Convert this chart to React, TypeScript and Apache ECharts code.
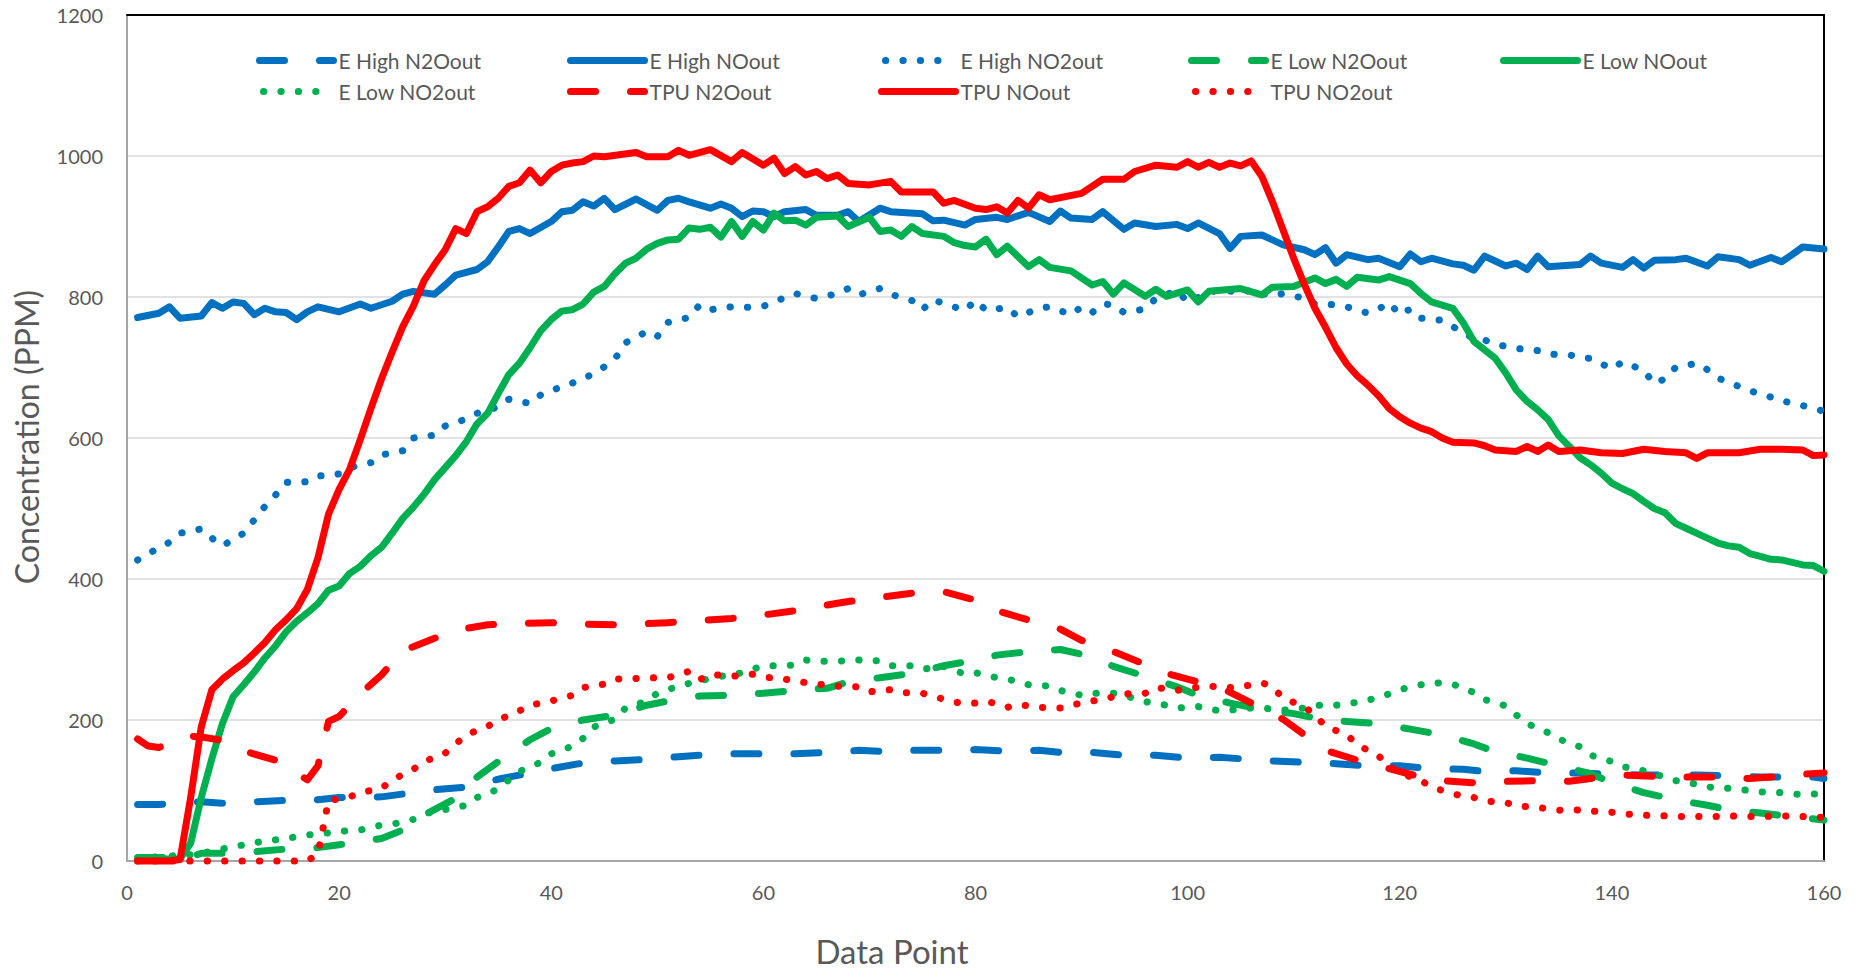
import { useEffect, useRef } from "react";
import * as echarts from "echarts";

// Concentration readings per data point, one [point, ppm] list per series.
const eHighN2O: [number, number][] = [
  [1, 80], [3, 80], [7, 84], [9, 82], [12, 84], [15, 86], [18, 87], [20, 90], [24, 91], [26, 95],
  [29, 101], [32, 105], [35, 116], [38, 125], [40, 131], [43, 139], [46, 142], [49, 144], [52, 148],
  [54, 150], [57, 152], [60, 152], [63, 152], [66, 154], [69, 157], [72, 155], [74, 157], [77, 157],
  [80, 158], [83, 156], [86, 157], [88, 154], [91, 154], [94, 150], [97, 150], [100, 146], [103, 147],
  [106, 144], [108, 142], [111, 140], [114, 138], [117, 135], [120, 135], [123, 131], [126, 130],
  [128, 127], [131, 128], [134, 125], [137, 125], [140, 123], [143, 122], [145, 122], [148, 122],
  [151, 121], [154, 119], [157, 119], [159, 119], [160, 117],
];

const eHighNO: [number, number][] = [
  [1, 771], [3, 777], [4, 786], [5, 770], [7, 773], [8, 792], [9, 784], [10, 793], [11, 791], [12, 775],
  [13, 784], [14, 779], [15, 778], [16, 768], [17, 779], [18, 786], [20, 779], [22, 790], [23, 784],
  [25, 794], [26, 804], [27, 808], [29, 804], [30, 817], [31, 831], [33, 839], [34, 850], [35, 871],
  [36, 893], [37, 897], [38, 890], [40, 907], [41, 921], [42, 923], [43, 935], [44, 929], [45, 940],
  [46, 924], [48, 939], [50, 923], [51, 937], [52, 940], [53, 935], [55, 926], [56, 932], [57, 926],
  [58, 914], [59, 922], [60, 921], [61, 914], [62, 921], [64, 924], [65, 916], [67, 916], [68, 921],
  [69, 907], [71, 926], [72, 921], [75, 918], [76, 908], [77, 909], [79, 902], [80, 910], [82, 913],
  [83, 910], [84, 915], [85, 920], [87, 907], [88, 922], [89, 912], [91, 910], [92, 921], [94, 896],
  [95, 905], [97, 900], [99, 903], [100, 897], [101, 905], [103, 890], [104, 869], [105, 886],
  [107, 888], [109, 874], [111, 867], [112, 860], [113, 870], [114, 848], [115, 860], [117, 853],
  [118, 855], [120, 843], [121, 861], [122, 850], [123, 855], [125, 847], [126, 845], [127, 838],
  [128, 858], [130, 844], [131, 848], [132, 839], [133, 858], [134, 843], [137, 846], [138, 858],
  [139, 848], [141, 842], [142, 853], [143, 841], [144, 852], [146, 853], [147, 855], [149, 844],
  [150, 857], [152, 853], [153, 845], [155, 856], [156, 850], [157, 860], [158, 871], [160, 868],
];

const eHighNO2: [number, number][] = [
  [1, 427], [2, 436], [4, 452], [5, 465], [7, 471], [8, 458], [9, 447], [11, 465], [12, 484], [13, 503],
  [14, 519], [15, 537], [17, 538], [18, 546], [20, 549], [21, 558], [23, 565], [24, 576], [26, 582],
  [27, 600], [29, 604], [30, 617], [32, 627], [33, 635], [35, 644], [36, 655], [38, 649], [39, 661],
  [41, 673], [42, 678], [44, 691], [45, 701], [46, 712], [47, 735], [49, 751], [50, 744], [51, 764],
  [53, 771], [54, 789], [55, 782], [57, 786], [58, 785], [60, 787], [61, 793], [63, 805], [64, 801],
  [65, 798], [67, 805], [68, 812], [69, 803], [71, 812], [72, 804], [74, 795], [75, 782], [76, 796],
  [77, 791], [79, 781], [80, 795], [81, 781], [83, 785], [84, 772], [86, 784], [87, 786], [89, 775],
  [90, 786], [91, 778], [92, 790], [93, 789], [94, 778], [96, 783], [97, 798], [99, 809], [100, 793],
  [102, 806], [103, 811], [105, 806], [106, 810], [108, 801], [109, 805], [111, 798], [112, 790],
  [114, 789], [115, 786], [117, 777], [118, 783], [119, 792], [120, 775], [121, 783], [122, 770],
  [124, 767], [125, 758], [127, 741], [128, 739], [129, 733], [131, 727], [133, 724], [134, 719],
  [136, 718], [137, 714], [138, 713], [140, 698], [141, 708], [143, 696], [144, 677], [145, 684],
  [146, 700], [148, 706], [149, 697], [150, 685], [152, 673], [153, 667], [155, 658], [156, 653],
  [158, 646], [160, 638],
];

const eLowN2O: [number, number][] = [
  [1, 5], [3, 5], [6, 6], [7, 11], [9, 11], [12, 13], [15, 17], [18, 19], [20, 23], [24, 32], [26, 44],
  [28, 65], [31, 89], [33, 119], [35, 141], [38, 172], [40, 188], [43, 200], [46, 207], [49, 221],
  [51, 227], [54, 234], [57, 235], [60, 238], [63, 242], [66, 245], [68, 254], [71, 260], [74, 266],
  [77, 277], [80, 285], [82, 292], [85, 297], [88, 300], [91, 290], [93, 276], [96, 262], [99, 247],
  [101, 235], [104, 224], [107, 215], [110, 209], [113, 200], [115, 198], [118, 195], [121, 187],
  [124, 179], [127, 166], [129, 155], [132, 146], [135, 135], [138, 124], [140, 111], [143, 97],
  [146, 87], [149, 79], [151, 73], [154, 68], [157, 63], [160, 58],
];

const eLowNO: [number, number][] = [
  [1, 3], [2, 3], [3, 3], [4, 3], [5, 3], [6, 25], [7, 90], [8, 145], [9, 195], [10, 233], [11, 250],
  [12, 268], [13, 288], [14, 305], [15, 325], [16, 340], [17, 352], [18, 365], [19, 384], [20, 390],
  [21, 408], [22, 418], [23, 433], [24, 445], [25, 465], [26, 486], [27, 502], [28, 520], [29, 541],
  [30, 558], [31, 575], [32, 595], [33, 620], [34, 635], [35, 663], [36, 690], [37, 706], [38, 728],
  [39, 752], [40, 768], [41, 780], [42, 782], [43, 790], [44, 807], [45, 815], [46, 833], [47, 848],
  [48, 855], [49, 868], [50, 876], [51, 881], [52, 882], [53, 898], [54, 896], [55, 899], [56, 885],
  [57, 907], [58, 886], [59, 907], [60, 895], [61, 919], [62, 908], [63, 909], [64, 902], [65, 913],
  [67, 915], [68, 900], [70, 913], [71, 893], [72, 895], [73, 886], [74, 900], [75, 890], [77, 886],
  [78, 877], [79, 873], [80, 871], [81, 882], [82, 860], [83, 872], [85, 843], [86, 853], [87, 842],
  [89, 837], [91, 817], [92, 822], [93, 804], [94, 820], [96, 801], [97, 811], [98, 801], [100, 810],
  [101, 793], [102, 808], [105, 812], [107, 803], [108, 814], [110, 815], [112, 827], [113, 819],
  [114, 825], [115, 815], [116, 828], [118, 824], [119, 829], [121, 819], [122, 805], [123, 793],
  [125, 784], [126, 763], [127, 737], [129, 713], [130, 692], [131, 668], [132, 652], [133, 640],
  [134, 626], [135, 603], [136, 588], [137, 572], [138, 562], [139, 550], [140, 536], [141, 528],
  [142, 521], [143, 510], [144, 500], [145, 494], [146, 479], [147, 472], [149, 458], [150, 451],
  [151, 447], [152, 445], [153, 436], [154, 432], [155, 428], [156, 427], [158, 420], [159, 419],
  [160, 411],
];

const eLowNO2: [number, number][] = [
  [1, 4], [4, 7], [6, 9], [7, 11], [9, 17], [11, 23], [12, 26], [14, 30], [15, 32], [17, 37], [19, 40],
  [20, 42], [22, 44], [24, 51], [25, 52], [27, 59], [28, 67], [30, 73], [32, 79], [33, 90], [35, 102],
  [36, 115], [37, 127], [39, 140], [40, 152], [42, 163], [43, 174], [44, 190], [46, 201], [47, 217],
  [49, 227], [50, 238], [52, 248], [53, 252], [55, 259], [56, 262], [58, 267], [60, 277], [61, 277],
  [63, 278], [64, 285], [66, 283], [68, 284], [69, 285], [71, 284], [72, 277], [74, 277], [75, 272],
  [77, 276], [79, 265], [80, 267], [82, 260], [83, 258], [85, 250], [87, 248], [88, 242], [90, 235],
  [91, 238], [93, 238], [94, 235], [96, 226], [98, 221], [99, 217], [101, 219], [103, 213], [104, 214],
  [106, 217], [107, 217], [109, 214], [111, 217], [112, 221], [114, 221], [116, 225], [117, 228],
  [119, 237], [120, 243], [122, 250], [123, 253], [125, 251], [127, 239], [128, 229], [130, 220],
  [131, 207], [132, 195], [134, 182], [135, 173], [137, 162], [138, 150], [140, 141], [141, 134],
  [143, 128], [145, 119], [146, 114], [148, 109], [149, 105], [151, 103], [153, 100], [154, 98],
  [156, 97], [158, 94], [159, 95], [160, 95],
];

const tpuN2O: [number, number][] = [
  [1, 173], [2, 163], [3, 161], [6, 177], [7, 176], [9, 171], [11, 156], [14, 143], [16, 125], [17, 115],
  [18, 135], [19, 198], [20, 205], [22, 237], [24, 264], [26, 298], [29, 316], [32, 330], [34, 335],
  [37, 337], [40, 338], [43, 336], [46, 335], [48, 336], [51, 338], [54, 341], [57, 344], [60, 349],
  [63, 355], [66, 363], [68, 368], [71, 374], [74, 380], [77, 382], [79, 374], [80, 370], [82, 355],
  [85, 342], [88, 329], [90, 313], [93, 297], [96, 279], [98, 266], [101, 254], [103, 247], [106, 224],
  [109, 201], [111, 179], [113, 157], [116, 143], [119, 131], [122, 119], [124, 114], [127, 111],
  [130, 113], [133, 114], [136, 113], [138, 117], [141, 122], [144, 120], [147, 119], [150, 119],
  [153, 117], [156, 120], [158, 123], [160, 125],
];

const tpuNO: [number, number][] = [
  [1, 0], [2, 0], [3, 0], [4, 0], [5, 2], [6, 90], [7, 190], [8, 243], [9, 258], [10, 270], [11, 281],
  [12, 295], [13, 310], [14, 328], [15, 342], [16, 358], [17, 385], [18, 430], [19, 492], [20, 527],
  [21, 556], [22, 598], [23, 642], [24, 684], [25, 722], [26, 758], [27, 787], [28, 823], [29, 846],
  [30, 867], [31, 897], [32, 890], [33, 921], [34, 928], [35, 940], [36, 957], [37, 962], [38, 980],
  [39, 962], [40, 978], [41, 987], [42, 990], [43, 992], [44, 1000], [45, 999], [48, 1005], [49, 999],
  [51, 999], [52, 1008], [53, 1001], [55, 1009], [57, 992], [58, 1005], [60, 987], [61, 997],
  [62, 975], [63, 985], [64, 973], [65, 978], [66, 968], [67, 973], [68, 961], [70, 959], [72, 964],
  [73, 949], [76, 949], [77, 933], [78, 937], [80, 926], [81, 924], [82, 928], [83, 919], [84, 937],
  [85, 926], [86, 945], [87, 938], [90, 947], [92, 967], [94, 967], [95, 978], [97, 987], [99, 984],
  [100, 992], [101, 984], [102, 991], [103, 984], [104, 990], [105, 986], [106, 993], [107, 971],
  [108, 935], [109, 895], [110, 855], [111, 818], [112, 784], [113, 757], [114, 728], [115, 705],
  [116, 688], [117, 675], [118, 660], [119, 642], [120, 630], [121, 621], [122, 614], [123, 609],
  [124, 600], [125, 594], [127, 593], [128, 589], [129, 583], [131, 581], [132, 588], [133, 581],
  [134, 590], [135, 581], [137, 583], [139, 579], [141, 578], [143, 584], [145, 581], [147, 579],
  [148, 571], [149, 579], [152, 579], [154, 584], [156, 584], [158, 583], [159, 575], [160, 576],
];

const tpuNO2: [number, number][] = [
  [1, 0], [5, 0], [10, 0], [15, 0], [17, 0], [18, 10], [19, 86], [20, 88], [21, 91], [22, 97], [24, 103],
  [25, 115], [27, 130], [28, 141], [30, 153], [31, 166], [32, 179], [34, 191], [35, 200], [37, 213],
  [38, 221], [40, 227], [42, 235], [43, 246], [45, 251], [46, 258], [48, 259], [50, 260], [51, 260],
  [53, 269], [54, 257], [55, 265], [57, 262], [59, 265], [60, 261], [62, 258], [64, 253], [65, 251],
  [67, 248], [69, 247], [70, 240], [72, 243], [73, 239], [75, 238], [76, 234], [78, 225], [80, 224],
  [81, 227], [83, 218], [84, 222], [86, 218], [88, 217], [89, 221], [91, 227], [92, 229], [94, 237],
  [96, 238], [97, 246], [99, 242], [100, 245], [102, 248], [104, 246], [105, 247], [107, 253],
  [108, 247], [109, 231], [111, 219], [112, 207], [113, 191], [115, 179], [116, 165], [118, 149],
  [119, 135], [120, 125], [122, 114], [123, 105], [125, 95], [127, 90], [128, 85], [130, 83],
  [131, 78], [133, 76], [135, 72], [136, 73], [138, 71], [140, 69], [141, 67], [143, 65], [145, 64],
  [146, 63], [148, 63], [150, 63], [151, 64], [153, 63], [154, 63], [156, 64], [158, 63], [160, 62],
];

const seriesNames = [
  "E High N2Oout", "E High NOout", "E High NO2out",
  "E Low N2Oout", "E Low NOout", "E Low NO2out",
  "TPU N2Oout", "TPU NOout", "TPU NO2out",
];
const seriesData = [eHighN2O, eHighNO, eHighNO2, eLowN2O, eLowNO, eLowNO2, tpuN2O, tpuNO, tpuNO2];
const seriesColors = ["#0070C0", "#0070C0", "#0070C0", "#00B050", "#00B050", "#00B050", "#FF0000", "#FF0000", "#FF0000"];
const seriesKinds = ["dash", "solid", "dot", "dash", "solid", "dot", "dash", "solid", "dot"];

const xTicks = { min: 0, max: 160, step: 20 };
const yTicks = { min: 0, max: 1200, step: 200 };

const FONT = "Lato, 'Open Sans', sans-serif";
const TEXT = "#595959";
const LINE_W = 7;

const dashPattern: Record<string, number[] | "solid"> = {
  solid: "solid",
  dash: [25, 35],
  dot: [0.3, 17.1],
};

// legend layout: five columns, two rows
const legendCols = [256, 567, 878, 1188, 1500];
const legendRows = [50, 81];

export default function App() {
  const ref = useRef<HTMLDivElement>(null);

  useEffect(() => {
    document.body.style.margin = "0";
    document.body.style.overflow = "hidden";
    if (!ref.current) return;
    const chart = echarts.init(ref.current, undefined, { renderer: "svg" });

    const lineStyleOf = (k: number) => ({
      color: seriesColors[k],
      width: LINE_W,
      type: dashPattern[seriesKinds[k]],
      cap: "round",
      join: "round",
    });

    const series = seriesNames.map((name, k) => ({
      name,
      type: "line" as const,
      data: seriesData[k],
      symbol: "none",
      showSymbol: false,
      clip: false,
      silent: true,
      lineStyle: lineStyleOf(k),
      itemStyle: { color: seriesColors[k] },
      emphasis: { disabled: true },
    }));

    const legends = seriesNames.map((name, k) => {
      const row = k < 5 ? 0 : 1;
      const col = k < 5 ? k : k - 5;
      const dotted = seriesKinds[k] === "dot";
      return {
        data: [name],
        left: legendCols[col] + (dotted ? 4 : 0),
        top: legendRows[row],
        padding: 0,
        itemWidth: dotted ? 54 : 74,
        itemHeight: 14,
        itemGap: 0,
        selectedMode: false,
        itemStyle: { opacity: 0, borderWidth: 0 },
        lineStyle: lineStyleOf(k),
        textStyle: {
          fontSize: 21,
          color: TEXT,
          fontFamily: FONT,
          padding: [0, 0, 0, dotted ? 16 : 0],
        },
      };
    });

    chart.setOption({
      animation: false,
      backgroundColor: "#ffffff",
      grid: { left: 127, right: 36, top: 15, bottom: 111, containLabel: false },
      legend: legends,
      xAxis: [
        {
          type: "value",
          min: xTicks.min,
          max: xTicks.max,
          interval: xTicks.step,
          position: "bottom",
          axisLine: { show: true, lineStyle: { color: "#a6a6a6", width: 2 } },
          axisTick: { show: false },
          splitLine: { show: false },
          axisLabel: { margin: 21, fontSize: 20, color: TEXT, fontFamily: FONT, formatter: (v: number) => String(v) },
        },
        {
          type: "value",
          min: xTicks.min,
          max: xTicks.max,
          position: "top",
          axisLine: { show: true, onZero: false, lineStyle: { color: "#000000", width: 2 } },
          axisTick: { show: false },
          axisLabel: { show: false },
          splitLine: { show: false },
        },
      ],
      yAxis: [
        {
          type: "value",
          min: yTicks.min,
          max: yTicks.max,
          interval: yTicks.step,
          axisLine: { show: true, lineStyle: { color: "#a6a6a6", width: 2 } },
          axisTick: { show: false },
          splitLine: { show: true, lineStyle: { color: "#d9d9d9", width: 1.5 } },
          axisLabel: { margin: 24, fontSize: 20, color: TEXT, fontFamily: FONT, formatter: (v: number) => String(v) },
        },
        {
          type: "value",
          min: yTicks.min,
          max: yTicks.max,
          position: "right",
          axisLine: { show: true, onZero: false, lineStyle: { color: "#000000", width: 2 } },
          axisTick: { show: false },
          axisLabel: { show: false },
          splitLine: { show: false },
        },
      ],
      graphic: [
        {
          type: "text",
          x: 26,
          y: 437,
          rotation: Math.PI / 2,
          style: {
            text: "Concentration (PPM)",
            fontSize: 32,
            fill: TEXT,
            fontFamily: FONT,
            align: "center",
            verticalAlign: "middle",
          },
        },
        {
          type: "text",
          x: 892,
          y: 951,
          style: {
            text: "Data Point",
            fontSize: 33,
            fill: TEXT,
            fontFamily: FONT,
            align: "center",
            verticalAlign: "middle",
          },
        },
      ],
      series,
    });

    return () => chart.dispose();
  }, []);

  return <div ref={ref} style={{ width: 1860, height: 972 }} />;
}
